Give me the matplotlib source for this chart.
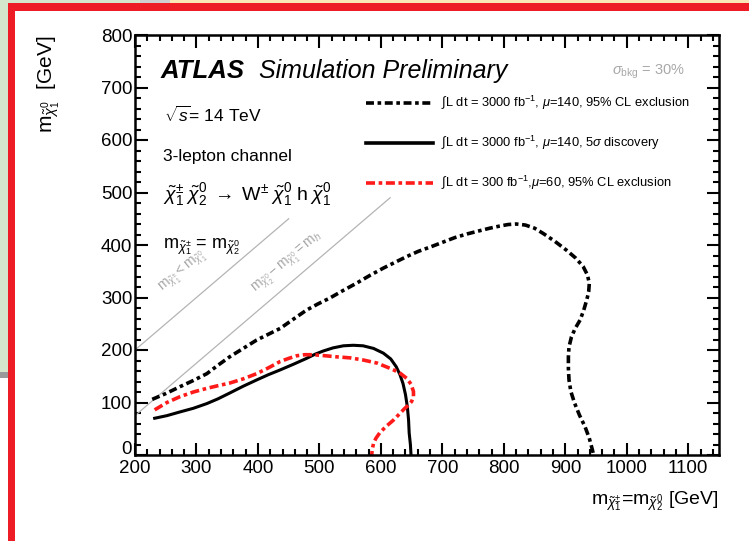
import matplotlib
matplotlib.use("Agg")
import matplotlib.pyplot as plt
import matplotlib.transforms as mtransforms
from matplotlib.lines import Line2D
from matplotlib.patches import Rectangle

plt.rcParams['font.family'] = ['Liberation Sans', 'DejaVu Sans']
plt.rcParams['mathtext.fontset'] = 'custom'
plt.rcParams['mathtext.rm'] = 'Liberation Sans'
plt.rcParams['mathtext.it'] = 'Liberation Sans:italic'
plt.rcParams['mathtext.bf'] = 'Liberation Sans:bold'

# 3000 fb-1, mu=140, 95% CL exclusion
excl_x = [228, 250, 273, 295, 317, 335, 354, 376, 398, 417, 436, 458, 479, 498,
          517, 538, 560, 582, 604, 623, 642, 661, 680, 700, 720, 740, 760, 777,
          793, 807, 820, 835, 850, 864, 883, 902, 917, 929, 936, 939, 938, 935,
          930, 924, 916, 910, 906, 905, 905, 906, 909, 915, 923, 932, 939, 944, 946]
excl_y = [106, 117, 130, 142, 155, 171, 187, 203, 219, 230, 241, 259, 276, 288,
          299, 313, 327, 342, 356, 367, 378, 388, 396, 405, 414, 421, 427, 432,
          436, 439, 440, 438, 432, 422, 407, 390, 375, 359, 343, 327, 311, 296,
          276, 257, 241, 225, 206, 187, 165, 143, 121, 99, 76, 54, 32, 10, 0]

# 3000 fb-1, mu=140, 5 sigma discovery
disc_x = [232, 252, 273, 295, 317, 335, 354, 376, 398, 417, 436, 458, 479, 493,
          506, 522, 539, 555, 571, 588, 604, 616, 625, 631, 636, 640, 643, 645,
          646, 648, 649]
disc_y = [70, 75, 82, 89, 98, 107, 118, 131, 143, 153, 162, 173, 184, 192,
          198, 204, 208, 209, 208, 203, 194, 183, 168, 153, 136, 115, 92, 67,
          42, 20, 0]

# 300 fb-1, mu=60, 95% CL exclusion
low_x = [232, 252, 273, 295, 317, 335, 354, 376, 398, 417, 436, 450, 463, 476,
         490, 510, 528, 550, 571, 594, 615, 630, 642, 649, 653, 653, 650, 645,
         639, 630, 620, 608, 598, 592, 588, 586, 585]
low_y = [86, 100, 111, 120, 127, 132, 137, 145, 155, 166, 178, 184, 189, 191,
         191, 189, 187, 185, 181, 175, 165, 157, 146, 135, 121, 111, 102, 95,
         89, 78, 66, 54, 42, 32, 22, 11, 0]

# kinematic boundaries
diag_x = [200, 450]
diag_y = [200, 450]
mh_x = [200, 615]
mh_y = [75, 490]

labels = [r'$\int$L dt = 3000 fb$^{-1}$, $\mu$=140, 95% CL exclusion',
          r'$\int$L dt = 3000 fb$^{-1}$, $\mu$=140, 5$\sigma$ discovery',
          r'$\int$L dt = 300 fb$^{-1}$,$\mu$=60, 95% CL exclusion']

W, H = 749, 541
fig = plt.figure(figsize=(W / 100, H / 100), dpi=100)


def px_rect(x0, y0, w, h, color):
    fig.add_artist(Rectangle((x0 / W, 1 - (y0 + h) / H), w / W, h / H,
                             transform=fig.transFigure, color=color, lw=0, zorder=0))


# slide around the plot
px_rect(0, 0, 10, 372, '#d4e7cd')
px_rect(0, 0, 140, 4, '#d4e7cd')
px_rect(140, 0, 30, 4, '#cfcfcf')
px_rect(170, 0, 579, 4, '#fbe6b8')
px_rect(0, 372, 10, 6, '#9a9a9a')
px_rect(8, 3, 741, 8, '#ee1c25')
px_rect(8, 3, 7, 538, '#ee1c25')

ax = fig.add_axes([135 / W, 86 / H, 584 / W, 420 / H])
ax.set_zorder(2)

ax.plot(diag_x, diag_y, color='#b4b4b4', lw=0.9)
ax.plot(mh_x, mh_y, color='#b4b4b4', lw=0.9)

ax.plot(excl_x, excl_y, color='black', lw=2.6, dashes=(2.2, 1.0, 1.0, 1.0))
ax.plot(disc_x, disc_y, color='black', lw=2.2)
ax.plot(low_x, low_y, color='#ff1a1a', lw=2.6, dashes=(2.5, 1.0, 1.0, 1.0))

ax.set_xlim(200, 1150)
ax.set_ylim(0, 800)
ax.set_xticks(range(200, 1101, 100))
ax.set_yticks(range(0, 801, 100))
ax.set_xticks(range(200, 1151, 20), minor=True)
ax.set_yticks(range(0, 801, 20), minor=True)
ax.tick_params(which='both', direction='in', top=True, right=True, labelsize=13.5,
               width=1.5, pad=2)
ax.tick_params(axis='x', which='major', pad=3.5)
ax.tick_params(which='major', length=9)
ax.tick_params(which='minor', length=4.5)
for s in ax.spines.values():
    s.set_linewidth(1.8)

# lift the "0" so it sits just above the "200" below it
zero = ax.get_yticklabels()[0]
zero.set_transform(zero.get_transform() +
                   mtransforms.ScaledTranslation(0, 5.5 / 72, fig.dpi_scale_trans))

ax.set_xlabel(r'$\mathrm{m}_{\tilde{\chi}_1^{\pm}}$=$\mathrm{m}_{\tilde{\chi}_2^0}$ [GeV]',
              loc='right', fontsize=14, labelpad=9)
ax.set_ylabel(r'$\mathrm{m}_{\tilde{\chi}_1^0}$  [GeV]', loc='top', fontsize=15,
              labelpad=28)

tr = ax.transAxes
ax.text(0.043, 0.898, 'ATLAS', transform=tr, fontsize=18.5, fontweight='bold',
        style='italic')
ax.text(0.212, 0.898, 'Simulation Preliminary', transform=tr, fontsize=18,
        style='italic')
ax.text(0.05, 0.81, r'$\sqrt{s}$= 14 TeV', transform=tr, fontsize=12.5, va='center')
ax.text(0.048, 0.71, '3-lepton channel', transform=tr, fontsize=12.5, va='center')
ax.text(0.048, 0.62,
        r'$\tilde{\chi}_1^{\pm}\;\tilde{\chi}_2^0\;\rightarrow\;\mathrm{W}^{\pm}\;'
        r'\tilde{\chi}_1^0\;\mathrm{h}\;\tilde{\chi}_1^0$',
        transform=tr, fontsize=14, va='center')
ax.text(0.048, 0.495, r'$\mathrm{m}_{\tilde{\chi}_1^{\pm}}$ = $\mathrm{m}_{\tilde{\chi}_2^0}$',
        transform=tr, fontsize=13, va='center')
ax.text(0.817, 0.912, r'$\sigma_{\mathrm{bkg}}$ = 30%', transform=tr, fontsize=10.5,
        color='#a8a8a8', va='center')

ax.text(278, 350, r'$\mathrm{m}_{\tilde{\chi}_1^{\pm}} < \mathrm{m}_{\tilde{\chi}_1^0}$',
        rotation=40, rotation_mode='anchor', ha='center', va='center', fontsize=10,
        color='#a8a8a8')
ax.text(449, 365,
        r'$\mathrm{m}_{\tilde{\chi}_2^0}-\mathrm{m}_{\tilde{\chi}_1^0}=\mathrm{m}_{h}$',
        rotation=40, rotation_mode='anchor', ha='center', va='center', fontsize=10,
        color='#a8a8a8')

handles = [Line2D([], [], color='black', lw=2.6, dashes=(2.2, 1.0, 1.0, 1.0)),
           Line2D([], [], color='black', lw=2.6),
           Line2D([], [], color='#ff1a1a', lw=2.6, dashes=(2.5, 1.0, 1.0, 1.0))]
ax.legend(handles, labels, loc='upper left', bbox_to_anchor=(0.385, 0.875),
          frameon=False, borderpad=0, handlelength=5.2, handletextpad=0.6,
          labelspacing=1.7, prop={'size': 9.3})

fig.savefig('out.png', dpi=100)
